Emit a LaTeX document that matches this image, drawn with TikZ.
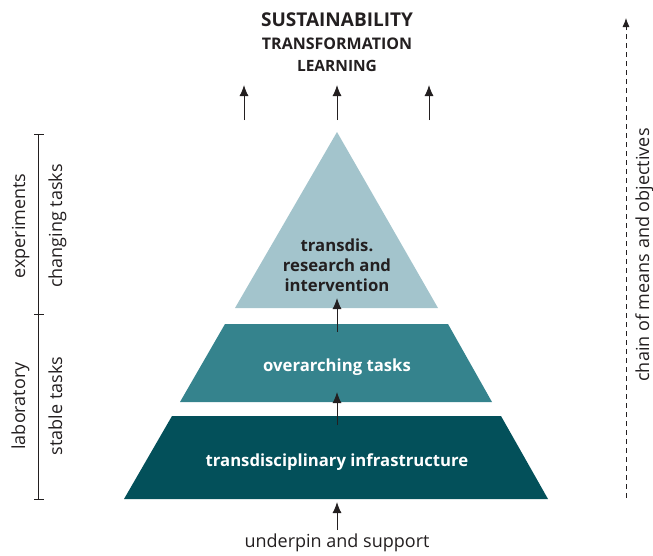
\documentclass[tikz,border=0pt]{standalone}
\usepackage{fontspec}
\setmainfont{Open Sans}
\usetikzlibrary{arrows.meta}

\definecolor{tdlight}{HTML}{A3C4CC}
\definecolor{tdmid}{HTML}{35838D}
\definecolor{tddark}{HTML}{03505A}
\definecolor{ink}{HTML}{231F20}

\begin{document}
\begin{tikzpicture}[
      x=1pt, y=-1pt,
      lbl/.style={
          font=\fontsize{16.7}{20}\selectfont\bfseries,
          text=#1,
          align=center
        },
      side/.style={
          rotate=90,
          anchor=base,
          font=\fontsize{18}{18}\selectfont,
          text=ink,
          inner sep=0pt
        },
      goal/.style={
          font=\fontsize{#1}{#1}\selectfont\bfseries,
          text=ink,
          inner sep=0pt
        },
      >={Latex[length=11pt,width=9pt]}
    ]
    \useasboundingbox (0,0) rectangle (653,555);
    % pyramid layers
    \fill[tdlight] (337,132) -- (438,308) -- (235,308) -- cycle;
    \fill[tdmid] (225,324) -- (448,324) -- (492,402) -- (180,402) -- cycle;
    \fill[tddark] (172,416) -- (501,416) -- (548,499) -- (124,499) -- cycle;
    \node[lbl=ink] (research) at (337,265) {transdis.\\research and\\intervention};
    \node[lbl=white] (tasks) at (337,367) {overarching tasks};
    \node[lbl=white] (infra) at (337,462) {transdisciplinary infrastructure};
    % goals on top
    \node[goal=19] (sust) at (337,20) {SUSTAINABILITY};
    \node[goal=16] (transf) at (337,44) {TRANSFORMATION};
    \node[goal=15.5] (learn) at (337,66) {LEARNING};
    \foreach \x/\n in {244/l,337/c,429/r}
      {\coordinate (\n-from) at (\x,120);
        \coordinate (\n-to) at (\x,85);
        \draw[->, line width=1pt, ink] (\n-from) -- (\n-to);
      }
    % arrows through the layers
    \node[font=\fontsize{18}{20}\selectfont, text=ink] (support) at (337,543) {underpin and support};
    \coordinate (up1-from) at (337,332);
    \coordinate (up1-to) at (337,298);
    \coordinate (up2-from) at (337,425);
    \coordinate (up2-to) at (337,392);
    \coordinate (up3-from) at (337,530);
    \coordinate (up3-to) at (337,502);
    \foreach \i in {1,2,3}
    \draw[->, line width=1pt, ink] (up\i-from) -- (up\i-to);
    % chain of means and objectives
    \coordinate (chain-from) at (626,498);
    \coordinate (chain-to) at (626,18);
    \draw[-{Latex[length=9pt,width=7pt]}, line width=0.8pt, ink, dash pattern=on 5pt off 4pt] (chain-from) -- (chain-to);
    \node[side] (chain) at (649,255) {chain of means and objectives};
    % bracket on the left
    \coordinate (br-top) at (38,134);
    \coordinate (br-bot) at (38,499);
    \draw[line width=1pt, ink] (br-top) -- (br-bot);
    \foreach \y in {134,314,499}
    \draw[line width=1pt, ink] (34,\y) -- (44,\y);
    \node[side] (exp) at (25,226) {experiments};
    \node[side] (changing) at (62,226) {changing tasks};
    \node[side] (lab) at (25,406) {laboratory};
    \node[side] (stable) at (62,406) {stable tasks};
  \end{tikzpicture}
\end{document}
